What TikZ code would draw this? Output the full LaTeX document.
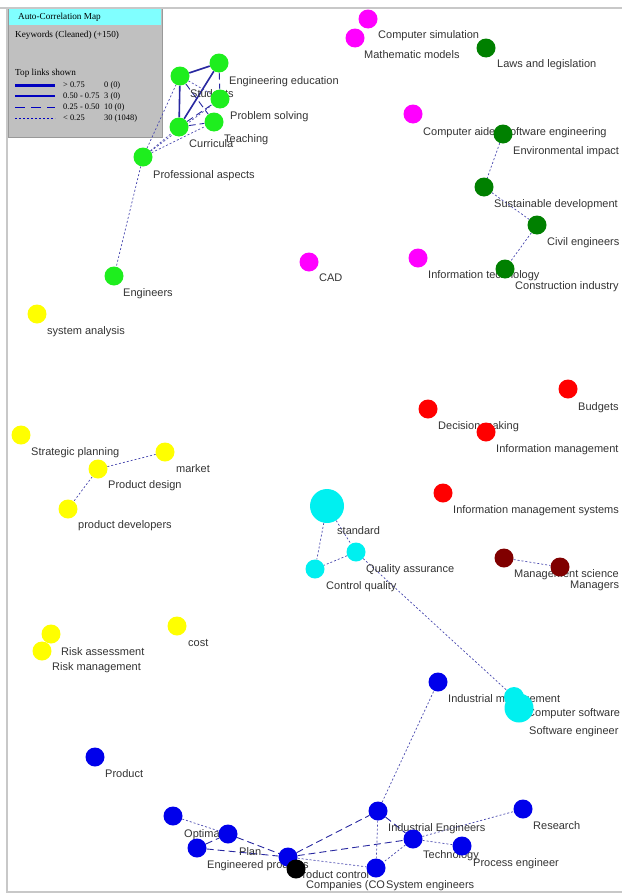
\documentclass[tikz,border=0pt]{standalone}
\usepackage{fontspec}
\setmainfont{Liberation Sans}
\newfontfamily\legfont{Liberation Serif}
\usetikzlibrary{positioning, backgrounds}

\definecolor{kwgreen}{RGB}{30,238,30}
\definecolor{kwmagenta}{RGB}{255,0,255}
\definecolor{kwdkgreen}{RGB}{0,128,0}
\definecolor{kwyellow}{RGB}{255,255,0}
\definecolor{kwred}{RGB}{255,0,0}
\definecolor{kwdkred}{RGB}{128,0,0}
\definecolor{kwcyan}{RGB}{0,240,240}
\definecolor{kwblue}{RGB}{0,0,235}
\definecolor{linkblue}{RGB}{40,40,160}
\definecolor{legcyan}{RGB}{128,255,255}
\definecolor{leggray}{RGB}{192,192,192}
\definecolor{framegray}{RGB}{200,200,200}

\begin{document}
\begin{tikzpicture}[
  x=1pt, y=-1pt,
  kw/.style={circle, inner sep=0pt, minimum size=19pt},
  lbl/.style={anchor=west, inner sep=0pt, text height=8pt, text depth=2.5pt, yshift=-2pt,
              text=black!80, font=\fontsize{11}{13}\selectfont},
  strong/.style={line width=1.6pt, color=linkblue},
  medium/.style={line width=0.9pt, color=linkblue, dash pattern=on 7pt off 4pt},
  weak/.style={line width=0.7pt, color=linkblue!85, dash pattern=on 2pt off 2pt},
  legtxt/.style={anchor=west, inner sep=0pt, font=\legfont\fontsize{9.2}{11}\selectfont},
  legrow/.style={anchor=west, inner sep=0pt, font=\legfont\fontsize{8.4}{10}\selectfont},
  frame/.style={draw=framegray, line width=2pt},
]
\useasboundingbox (0,0) rectangle (622,894);

% --- Frame ---
\draw[frame] (0,8) -- (622,8);
\draw[frame] (7,8) -- (7,892) -- (622,892);

% --- Keywords: green cluster ---
\node[kw, fill=kwgreen] (ee) at (219,63) {};
\node[kw, fill=kwgreen] (stu) at (180,76) {};
\node[kw, fill=kwgreen] (ps) at (220,99) {};
\node[kw, fill=kwgreen] (tea) at (214,122) {};
\node[kw, fill=kwgreen] (cur) at (179,127) {};
\node[kw, fill=kwgreen] (pa) at (143,157) {};
\node[kw, fill=kwgreen] (eng) at (114,276) {};

% --- Keywords: magenta ---
\node[kw, fill=kwmagenta] (csim) at (368,19) {};
\node[kw, fill=kwmagenta] (mm) at (355,38) {};
\node[kw, fill=kwmagenta] (case) at (413,114) {};
\node[kw, fill=kwmagenta] (cad) at (309,262) {};
\node[kw, fill=kwmagenta] (it) at (418,258) {};

% --- Keywords: dark green ---
\node[kw, fill=kwdkgreen] (laws) at (486,48) {};
\node[kw, fill=kwdkgreen] (env) at (503,134) {};
\node[kw, fill=kwdkgreen] (sus) at (484,187) {};
\node[kw, fill=kwdkgreen] (civ) at (537,225) {};
\node[kw, fill=kwdkgreen] (con) at (505,269) {};

% --- Keywords: yellow ---
\node[kw, fill=kwyellow] (sa) at (37,314) {};
\node[kw, fill=kwyellow] (sp) at (21,435) {};
\node[kw, fill=kwyellow] (mkt) at (165,452) {};
\node[kw, fill=kwyellow] (pd) at (98,469) {};
\node[kw, fill=kwyellow] (pdev) at (68,509) {};
\node[kw, fill=kwyellow] (ra) at (51,634) {};
\node[kw, fill=kwyellow] (rm) at (42,651) {};
\node[kw, fill=kwyellow] (cost) at (177,626) {};

% --- Keywords: red ---
\node[kw, fill=kwred] (bud) at (568,389) {};
\node[kw, fill=kwred] (dm) at (428,409) {};
\node[kw, fill=kwred] (im) at (486,432) {};
\node[kw, fill=kwred] (ims) at (443,493) {};
\node[kw, fill=kwdkred] (ms) at (504,558) {};
\node[kw, fill=kwdkred] (mgr) at (560,567) {};

% --- Keywords: cyan ---
\node[kw, fill=kwcyan, minimum size=34pt] (std) at (327,506) {};
\node[kw, fill=kwcyan] (qa) at (356,552) {};
\node[kw, fill=kwcyan] (cq) at (315,569) {};
\node[kw, fill=kwcyan, minimum size=20pt] (csw) at (514,697) {};
\node[kw, fill=kwcyan, minimum size=29pt] (swe) at (519,708) {};

% --- Keywords: blue ---
\node[kw, fill=kwblue] (prod) at (95,757) {};
\node[kw, fill=kwblue] (imgmt) at (438,682) {};
\node[kw, fill=kwblue] (ie) at (378,811) {};
\node[kw, fill=kwblue] (tech) at (413,839) {};
\node[kw, fill=kwblue] (pe) at (462,846) {};
\node[kw, fill=kwblue] (res) at (523,809) {};
\node[kw, fill=kwblue] (se) at (376,868) {};
\node[kw, fill=kwblue] (opt) at (173,816) {};
\node[kw, fill=kwblue] (plan) at (228,834) {};
\node[kw, fill=kwblue] (ep) at (197,848) {};
\node[kw, fill=kwblue] (pc) at (288,857) {};
\node[kw, fill=black] (comp) at (296,869) {};

\begin{scope}[on background layer]
  % --- Legend ---
  \node[draw=gray!80, fill=leggray, anchor=north west, inner sep=0pt,
        minimum width=154pt, minimum height=129pt] (legend) at (8,8) {};
  \node[fill=legcyan, anchor=north west, inner sep=0pt,
        minimum width=152pt, minimum height=16pt] (legtitle) at (9,9) {};
  \node[legtxt] (legname) at (18,17) {Auto-Correlation Map};
  \node[legtxt] (legset) at (15,35) {Keywords (Cleaned) (+150)};
  \node[legtxt] (leghead) at (15,73) {Top links shown};
  \draw[line width=3pt, color=blue!75!black] (15,85) -- (55,85);
  \draw[line width=1.2pt, color=blue!75!black] (15,96) -- (55,96);
  \draw[line width=1pt, color=blue!75!black, dash pattern=on 10pt off 6pt] (15,107) -- (55,107);
  \draw[line width=0.8pt, color=blue!75!black, dash pattern=on 2pt off 2pt] (15,118) -- (55,118);
  \node[legrow] (t1) at (63,85) {> 0.75};
  \node[legrow] (t2) at (63,96) {0.50 - 0.75};
  \node[legrow] (t3) at (63,107) {0.25 - 0.50};
  \node[legrow] (t4) at (63,118) {< 0.25};
  \node[legrow] (n1) at (104,85) {0 (0)};
  \node[legrow] (n2) at (104,96) {3 (0)};
  \node[legrow] (n3) at (104,107) {10 (0)};
  \node[legrow] (n4) at (104,118) {30 (1048)};

  % --- Links ---
  \draw[strong] (stu) -- (ee);
  \draw[strong] (stu) -- (cur);
  \draw[strong] (cur) -- (ee);
  \draw[medium] (ee) -- (ps);
  \draw[medium] (stu) -- (tea);
  \draw[medium] (cur) -- (ps);
  \draw[medium] (cur) -- (tea);
  \draw[weak] (stu) -- (ps);
  \draw[weak] (pa) -- (stu);
  \draw[weak] (pa) -- (cur);
  \draw[weak] (pa) -- (tea);
  \draw[weak] (pa) -- (ps);
  \draw[weak] (pa) -- (eng);

  \draw[weak] (env) -- (sus);
  \draw[weak] (sus) -- (civ);
  \draw[weak] (civ) -- (con);

  \draw[weak] (pd) -- (mkt);
  \draw[weak] (pd) -- (pdev);

  \draw[weak] (ms) -- (mgr);

  \draw[weak] (std) -- (cq);
  \draw[weak] (std) -- (qa);
  \draw[weak] (qa) -- (cq);
  \draw[weak] (qa) -- (csw);

  \draw[weak] (opt) -- (plan);
  \draw[medium] (ep) -- (plan);
  \draw[medium] (ep) -- (pc);
  \draw[medium] (plan) -- (pc);
  \draw[medium] (pc) -- (ie);
  \draw[medium] (pc) -- (tech);
  \draw[medium] (ie) -- (tech);
  \draw[weak] (pc) -- (se);
  \draw[weak] (ie) -- (se);
  \draw[weak] (tech) -- (se);
  \draw[weak] (tech) -- (pe);
  \draw[weak] (tech) -- (res);
  \draw[weak] (ie) -- (imgmt);

  % --- Labels ---
  \node[lbl] (eeL) at ([shift={(10,17)}]ee) {Engineering education};
  \node[lbl] (stuL) at ([shift={(10,17)}]stu) {Students};
  \node[lbl] (psL) at ([shift={(10,16)}]ps) {Problem solving};
  \node[lbl] (teaL) at ([shift={(10,16)}]tea) {Teaching};
  \node[lbl] (curL) at ([shift={(10,16)}]cur) {Curricula};
  \node[lbl] (paL) at ([shift={(10,17)}]pa) {Professional aspects};
  \node[lbl] (engL) at ([shift={(9,16)}]eng) {Engineers};

  \node[lbl] (csimL) at ([shift={(10,15)}]csim) {Computer simulation};
  \node[lbl] (mmL) at ([shift={(9,16)}]mm) {Mathematic models};
  \node[lbl] (caseL) at ([shift={(10,17)}]case) {Computer aided software engineering};
  \node[lbl] (cadL) at ([shift={(10,15)}]cad) {CAD};
  \node[lbl] (itL) at ([shift={(10,16)}]it) {Information technology};

  \node[lbl] (lawsL) at ([shift={(11,15)}]laws) {Laws and legislation};
  \node[lbl] (envL) at ([shift={(10,16)}]env) {Environmental impact};
  \node[lbl] (susL) at ([shift={(10,16)}]sus) {Sustainable development};
  \node[lbl] (civL) at ([shift={(10,16)}]civ) {Civil engineers};
  \node[lbl] (conL) at ([shift={(10,16)}]con) {Construction industry};

  \node[lbl] (saL) at ([shift={(10,16)}]sa) {system analysis};
  \node[lbl] (spL) at ([shift={(10,16)}]sp) {Strategic planning};
  \node[lbl] (mktL) at ([shift={(11,16)}]mkt) {market};
  \node[lbl] (pdL) at ([shift={(10,15)}]pd) {Product design};
  \node[lbl] (pdevL) at ([shift={(10,15)}]pdev) {product developers};
  \node[lbl] (raL) at ([shift={(10,17)}]ra) {Risk assessment};
  \node[lbl] (rmL) at ([shift={(10,15)}]rm) {Risk management};
  \node[lbl] (costL) at ([shift={(11,16)}]cost) {cost};

  \node[lbl] (budL) at ([shift={(10,17)}]bud) {Budgets};
  \node[lbl] (dmL) at ([shift={(10,16)}]dm) {Decision making};
  \node[lbl] (imL) at ([shift={(10,16)}]im) {Information management};
  \node[lbl] (imsL) at ([shift={(10,16)}]ims) {Information management systems};
  \node[lbl] (msL) at ([shift={(10,15)}]ms) {Management science};
  \node[lbl] (mgrL) at ([shift={(10,17)}]mgr) {Managers};

  \node[lbl] (stdL) at ([shift={(10,24)}]std) {standard};
  \node[lbl] (qaL) at ([shift={(10,16)}]qa) {Quality assurance};
  \node[lbl] (cqL) at ([shift={(11,16)}]cq) {Control quality};
  \node[lbl] (cswL) at ([shift={(13,15)}]csw) {Computer software};
  \node[lbl] (sweL) at ([shift={(10,22)}]swe) {Software engineer};

  \node[lbl] (prodL) at ([shift={(10,16)}]prod) {Product};
  \node[lbl] (imgmtL) at ([shift={(10,16)}]imgmt) {Industrial management};
  \node[lbl] (ieL) at ([shift={(10,16)}]ie) {Industrial Engineers};
  \node[lbl] (techL) at ([shift={(10,15)}]tech) {Technology};
  \node[lbl] (peL) at ([shift={(11,16)}]pe) {Process engineer};
  \node[lbl] (resL) at ([shift={(10,16)}]res) {Research};
  \node[lbl] (seL) at ([shift={(10,16)}]se) {System engineers};
  \node[lbl] (optL) at ([shift={(11,17)}]opt) {Optimality};
  \node[lbl] (planL) at ([shift={(11,17)}]plan) {Plan};
  \node[lbl] (epL) at ([shift={(10,16)}]ep) {Engineered products};
  \node[lbl] (pcL) at ([shift={(7,17)}]pc) {Product control};
  \node[lbl] (compL) at ([shift={(10,15)}]comp) {Companies (CO};
\end{scope}

\end{tikzpicture}
\end{document}
